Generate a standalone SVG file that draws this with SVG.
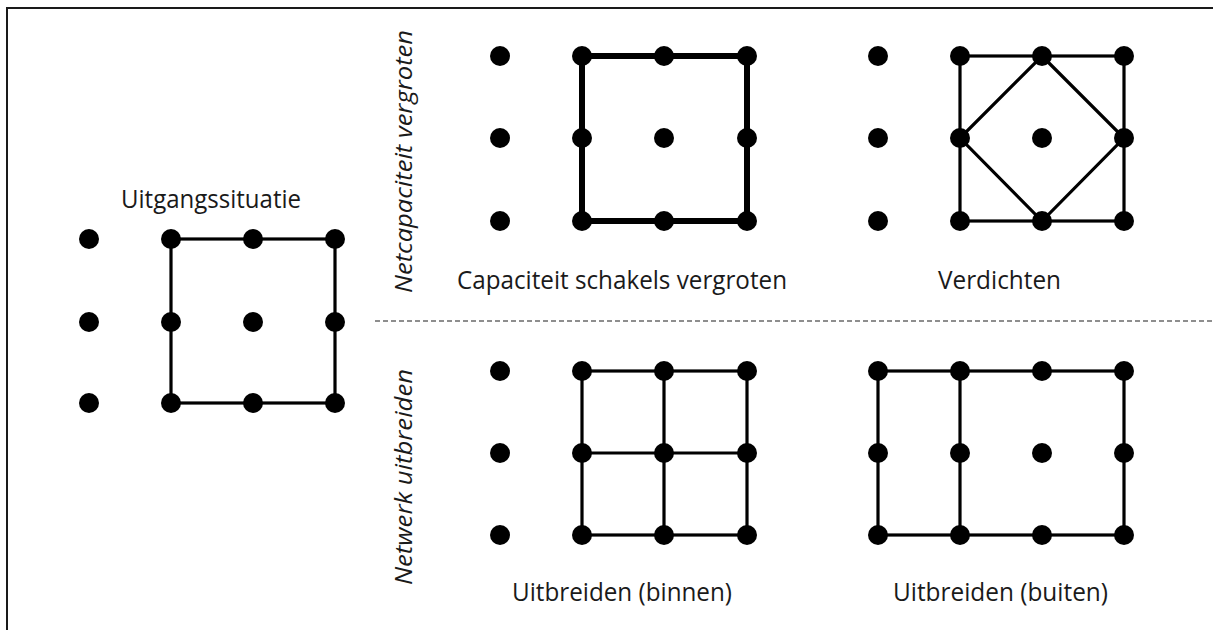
<svg xmlns="http://www.w3.org/2000/svg" width="1213" height="630" viewBox="0 0 1213 630">
  <style>
    .frame { fill: none; stroke: #1a1a1a; stroke-width: 2; }
    .link { fill: none; stroke: #000; stroke-width: 3.2; stroke-linejoin: miter; }
    .link-thick { fill: none; stroke: #000; stroke-width: 6; }
    .divider { stroke: #6a6a6a; stroke-width: 1.5; stroke-dasharray: 5 3; }
    .node { fill: #000; }
    .label { font-family: "Open Sans", "Noto Sans", "DejaVu Sans", sans-serif; font-size: 25px; fill: #1a1a1a; }
    .side { font-family: "Open Sans", "Noto Sans", "DejaVu Sans", sans-serif; font-size: 24px; font-style: italic; fill: #1a1a1a; }
  </style>
  <defs>
    <circle id="dot" r="10"/>
  </defs>
  <rect width="1213" height="630" fill="#fff"/>
  <!-- outer frame (open to the right and bottom) -->
  <path class="frame" d="M1213,8 H7 V630"/>

  <!-- section divider -->
  <line class="divider" x1="375" y1="321" x2="1213" y2="321"/>

  <!-- row headings -->
  <text class="side" transform="translate(412,293) rotate(-90)" textLength="263" lengthAdjust="spacingAndGlyphs">Netcapaciteit vergroten</text>
  <text class="side" transform="translate(412,585) rotate(-90)" textLength="216" lengthAdjust="spacingAndGlyphs">Netwerk uitbreiden</text>

  <!-- connectors -->
  <g id="connectors">
    <!-- initial situation -->
    <rect class="link" x="171" y="239" width="164" height="164"/>
    <!-- increased link capacity -->
    <rect class="link-thick" x="582" y="56" width="165" height="165"/>
    <!-- densify -->
    <rect class="link" x="960" y="56" width="164" height="165"/>
    <path class="link" d="M1042,56 L1124,138 L1042,221 L960,138 Z"/>
    <!-- extend inside -->
    <rect class="link" x="582" y="371" width="165" height="164"/>
    <path class="link" d="M664,371 V535 M582,453 H747"/>
    <!-- extend outside -->
    <rect class="link" x="878" y="371" width="246" height="164"/>
    <path class="link" d="M960,371 V535"/>
  </g>

  <!-- initial situation -->
  <g id="uitgangssituatie">
    <text class="label" x="211" y="208" text-anchor="middle" textLength="180" lengthAdjust="spacingAndGlyphs">Uitgangssituatie</text>
    <g class="node">
      <use href="#dot" x="89" y="239"/><use href="#dot" x="171" y="239"/><use href="#dot" x="253" y="239"/><use href="#dot" x="335" y="239"/>
      <use href="#dot" x="89" y="322"/><use href="#dot" x="171" y="322"/><use href="#dot" x="253" y="322"/><use href="#dot" x="335" y="322"/>
      <use href="#dot" x="89" y="403"/><use href="#dot" x="171" y="403"/><use href="#dot" x="253" y="403"/><use href="#dot" x="335" y="403"/>
    </g>
  </g>

  <!-- increase link capacity -->
  <g id="capaciteit">
    <text class="label" x="622" y="289" text-anchor="middle" textLength="330" lengthAdjust="spacingAndGlyphs">Capaciteit schakels vergroten</text>
    <g class="node">
      <use href="#dot" x="500" y="56"/><use href="#dot" x="582" y="56"/><use href="#dot" x="664" y="56"/><use href="#dot" x="747" y="56"/>
      <use href="#dot" x="500" y="138"/><use href="#dot" x="582" y="138"/><use href="#dot" x="664" y="138"/><use href="#dot" x="747" y="138"/>
      <use href="#dot" x="500" y="221"/><use href="#dot" x="582" y="221"/><use href="#dot" x="664" y="221"/><use href="#dot" x="747" y="221"/>
    </g>
  </g>

  <!-- densify -->
  <g id="verdichten">
    <text class="label" x="999.5" y="289" text-anchor="middle" textLength="123" lengthAdjust="spacingAndGlyphs">Verdichten</text>
    <g class="node">
      <use href="#dot" x="878" y="56"/><use href="#dot" x="960" y="56"/><use href="#dot" x="1042" y="56"/><use href="#dot" x="1124" y="56"/>
      <use href="#dot" x="878" y="138"/><use href="#dot" x="960" y="138"/><use href="#dot" x="1042" y="138"/><use href="#dot" x="1124" y="138"/>
      <use href="#dot" x="878" y="221"/><use href="#dot" x="960" y="221"/><use href="#dot" x="1042" y="221"/><use href="#dot" x="1124" y="221"/>
    </g>
  </g>

  <!-- extend inside -->
  <g id="uitbreiden-binnen">
    <text class="label" x="622" y="601" text-anchor="middle" textLength="220" lengthAdjust="spacingAndGlyphs">Uitbreiden (binnen)</text>
    <g class="node">
      <use href="#dot" x="500" y="371"/><use href="#dot" x="582" y="371"/><use href="#dot" x="664" y="371"/><use href="#dot" x="747" y="371"/>
      <use href="#dot" x="500" y="453"/><use href="#dot" x="582" y="453"/><use href="#dot" x="664" y="453"/><use href="#dot" x="747" y="453"/>
      <use href="#dot" x="500" y="535"/><use href="#dot" x="582" y="535"/><use href="#dot" x="664" y="535"/><use href="#dot" x="747" y="535"/>
    </g>
  </g>

  <!-- extend outside -->
  <g id="uitbreiden-buiten">
    <text class="label" x="1000.5" y="601" text-anchor="middle" textLength="215" lengthAdjust="spacingAndGlyphs">Uitbreiden (buiten)</text>
    <g class="node">
      <use href="#dot" x="878" y="371"/><use href="#dot" x="960" y="371"/><use href="#dot" x="1042" y="371"/><use href="#dot" x="1124" y="371"/>
      <use href="#dot" x="878" y="453"/><use href="#dot" x="960" y="453"/><use href="#dot" x="1042" y="453"/><use href="#dot" x="1124" y="453"/>
      <use href="#dot" x="878" y="535"/><use href="#dot" x="960" y="535"/><use href="#dot" x="1042" y="535"/><use href="#dot" x="1124" y="535"/>
    </g>
  </g>
</svg>
